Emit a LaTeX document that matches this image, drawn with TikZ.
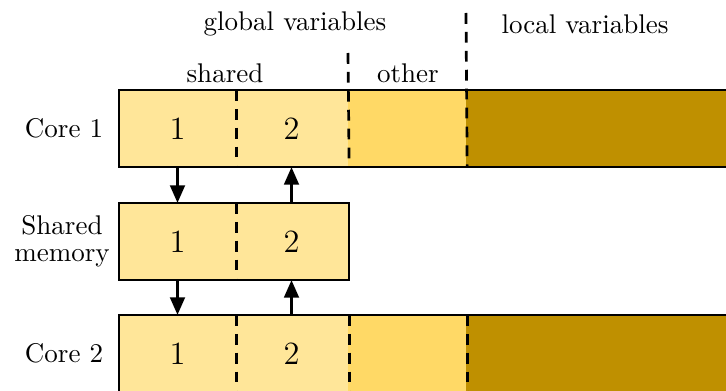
\documentclass[tikz,border=0pt]{standalone}
\usetikzlibrary{arrows.meta}
\definecolor{sharedfill}{HTML}{FFE699}
\definecolor{otherfill}{HTML}{FFD966}
\definecolor{localfill}{HTML}{BF9000}
\def\u{0.37pt}
\begin{document}
\begin{tikzpicture}[x=\u, y=\u, line width=0.85pt,
    cell/.style={rectangle, inner sep=0pt, minimum height=75*\u, font=\large},
    divider/.style={dashed, line width=1pt, dash pattern=on 4pt off 3pt},
    flow/.style={-{Triangle[length=6.5pt,width=5.5pt]}}]
  \useasboundingbox (0,0) rectangle (726,390);
  % core 1
  \draw
    (177.5,261.5) node[cell, fill=sharedfill, minimum width=115*\u] (c1one){1}
    (291.5,261.5) node[cell, fill=sharedfill, minimum width=113*\u] (c1two){2}
    (407,261.5) node[cell, fill=otherfill, minimum width=118*\u] (c1other){}
    (596,261.5) node[cell, fill=localfill, minimum width=260*\u] (c1local){};
  % shared memory
  \draw
    (177.5,148.5) node[cell, fill=sharedfill, minimum width=115*\u] (smone){1}
    (291.5,148.5) node[cell, fill=sharedfill, minimum width=113*\u] (smtwo){2};
  % core 2
  \draw
    (177.5,36.5) node[cell, fill=sharedfill, minimum width=115*\u] (c2one){1}
    (291.5,36.5) node[cell, fill=sharedfill, minimum width=113*\u] (c2two){2}
    (407,36.5) node[cell, fill=otherfill, minimum width=118*\u] (c2other){}
    (596,36.5) node[cell, fill=localfill, minimum width=260*\u] (c2local){};
  % labels
  \draw
    (64,261.5) node (core1){Core 1}
    (62,148.5) node[align=center] (shmem){Shared\\[-2pt]memory}
    (64,36.5) node (core2){Core 2}
    (295,366) node (global){global variables}
    (585,366) node (local){local variables}
    (225,317) node (shared){shared}
    (408,317) node (other){other};
  \coordinate (othertop) at (348,337);
  \coordinate (localtop) at (466,377);
  % outlines
  \draw (c1local.north east) -- (c1one.north west) -- (c1one.south west) -- (c1local.south east);
  \draw (smone.north west) rectangle (smtwo.south east);
  \draw (c2local.north east) -- (c2one.north west) -- (c2one.south west) -- (c2local.south east);
  \begin{scope}[divider]
    \draw (c1one.north east) -- (c1one.south east);
    \draw (othertop) -- (c1two.south east);
    \draw (localtop) -- (c1other.south east);
    \draw (smone.north east) -- (smone.south east);
    \draw (c2one.north east) -- (c2one.south east);
    \draw (c2two.north east) -- (c2two.south east);
    \draw (c2other.north east) -- (c2other.south east);
  \end{scope}
  \begin{scope}[flow]
    \draw (c1one) to (smone);
    \draw (smtwo) to (c1two);
    \draw (smone) to (c2one);
    \draw (c2two) to (smtwo);
  \end{scope}
\end{tikzpicture}
\end{document}
